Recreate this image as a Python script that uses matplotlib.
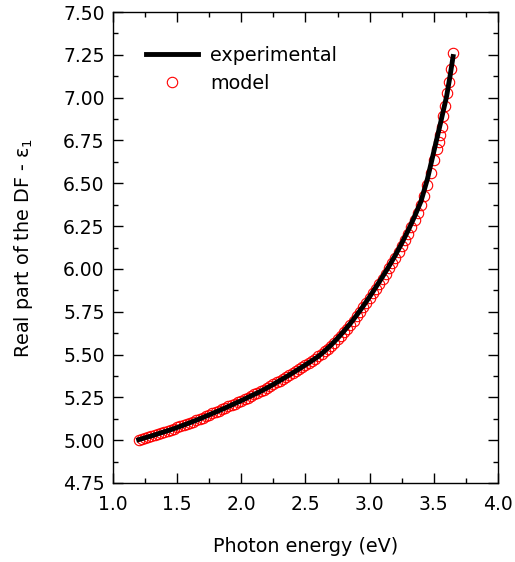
import matplotlib
matplotlib.use("Agg")
import matplotlib.pyplot as plt
from matplotlib.ticker import MultipleLocator

plt.rcParams['font.family'] = ['DejaVu Sans']
plt.rcParams['mathtext.fontset'] = 'dejavusans'

# experimental curve (eV, eps1)
energia_exp = [1.20, 1.25, 1.30, 1.35, 1.40, 1.45, 1.50, 1.55, 1.60, 1.65,
               1.70, 1.75, 1.80, 1.85, 1.90, 1.95, 2.00, 2.05, 2.10, 2.15,
               2.20, 2.25, 2.30, 2.35, 2.40, 2.45, 2.50, 2.55, 2.60, 2.65,
               2.70, 2.75, 2.80, 2.85, 2.90, 2.95, 3.00, 3.05, 3.10, 3.15,
               3.20, 3.25, 3.30, 3.35, 3.40, 3.45, 3.50, 3.55, 3.60, 3.625,
               3.65]
eps1_exp = [5.003, 5.014, 5.025, 5.037, 5.049, 5.061, 5.074, 5.088, 5.102, 5.117,
            5.132, 5.148, 5.164, 5.180, 5.197, 5.214, 5.231, 5.249, 5.267, 5.285,
            5.305, 5.326, 5.348, 5.370, 5.393, 5.416, 5.440, 5.464, 5.489, 5.521,
            5.556, 5.595, 5.637, 5.682, 5.731, 5.783, 5.838, 5.895, 5.954, 6.015,
            6.080, 6.150, 6.225, 6.306, 6.395, 6.525, 6.685, 6.845, 7.010, 7.120,
            7.240]

# model points
energia_mod = [1.200, 1.225, 1.250, 1.275, 1.300, 1.325, 1.350, 1.375, 1.400, 1.425,
               1.450, 1.475, 1.500, 1.525, 1.550, 1.575, 1.600, 1.625, 1.650, 1.675,
               1.700, 1.725, 1.750, 1.775, 1.800, 1.825, 1.850, 1.875, 1.900, 1.925,
               1.950, 1.975, 2.000, 2.025, 2.050, 2.075, 2.100, 2.125, 2.150, 2.175,
               2.200, 2.225, 2.250, 2.275, 2.300, 2.325, 2.350, 2.375, 2.400, 2.425,
               2.450, 2.475, 2.500, 2.525, 2.550, 2.575, 2.600, 2.625, 2.650, 2.675,
               2.700, 2.725, 2.750, 2.775, 2.800, 2.825, 2.850, 2.875, 2.900, 2.925,
               2.950, 2.975, 3.000, 3.025, 3.050, 3.075, 3.100, 3.125, 3.150, 3.175,
               3.200, 3.225, 3.250, 3.275, 3.300, 3.325, 3.350, 3.375, 3.400, 3.425,
               3.450, 3.475, 3.500, 3.525, 3.538, 3.548, 3.561, 3.574, 3.589, 3.605,
               3.618, 3.631, 3.652]
eps1_mod = [5.003, 5.008, 5.014, 5.019, 5.025, 5.031, 5.037, 5.043, 5.049, 5.055,
            5.061, 5.067, 5.074, 5.081, 5.088, 5.095, 5.102, 5.109, 5.117, 5.124,
            5.132, 5.140, 5.148, 5.156, 5.164, 5.172, 5.180, 5.188, 5.197, 5.205,
            5.214, 5.222, 5.231, 5.240, 5.249, 5.258, 5.267, 5.276, 5.285, 5.295,
            5.305, 5.315, 5.326, 5.337, 5.348, 5.359, 5.370, 5.381, 5.393, 5.404,
            5.416, 5.428, 5.440, 5.452, 5.464, 5.476, 5.489, 5.503, 5.518, 5.534,
            5.551, 5.569, 5.588, 5.608, 5.629, 5.651, 5.674, 5.698, 5.723, 5.749,
            5.775, 5.802, 5.829, 5.857, 5.885, 5.914, 5.943, 5.973, 6.003, 6.034,
            6.065, 6.098, 6.132, 6.168, 6.205, 6.245, 6.285, 6.328, 6.373, 6.425,
            6.490, 6.560, 6.635, 6.700, 6.740, 6.780, 6.830, 6.890, 6.950, 7.025,
            7.090, 7.170, 7.262]

fig = plt.figure(figsize=(5.15, 5.62), dpi=100)
ax = fig.add_axes([0.2194, 0.1406, 0.7476, 0.838])

ax.plot(energia_exp, eps1_exp, color='black', lw=3.5, label='experimental', zorder=3)
ax.plot(energia_mod, eps1_mod, ls='none', marker='o', ms=7.5, mfc='none',
        mec='red', mew=0.8, label='model', zorder=2)

ax.set_xlim(1.0, 4.0)
ax.set_ylim(4.75, 7.50)
ax.xaxis.set_major_locator(MultipleLocator(0.5))
ax.xaxis.set_minor_locator(MultipleLocator(0.25))
ax.yaxis.set_major_locator(MultipleLocator(0.25))
ax.yaxis.set_minor_locator(MultipleLocator(0.125))
ax.xaxis.set_major_formatter(plt.FormatStrFormatter('%.1f'))
ax.yaxis.set_major_formatter(plt.FormatStrFormatter('%.2f'))

ax.tick_params(which='both', direction='in', top=True, right=True, width=1.0,
               labelsize=13.5)
ax.tick_params(which='major', length=7)
ax.tick_params(axis='x', which='major', pad=9)
ax.tick_params(axis='y', which='major', pad=6)
ax.tick_params(which='minor', length=3.5)
for s in ax.spines.values():
    s.set_linewidth(1.0)

ax.set_xlabel('Photon energy (eV)', fontsize=13.8, labelpad=16)
ax.set_ylabel('Real part of the DF - ε$_1$', fontsize=13.8, labelpad=20)

ax.legend(loc='upper left', bbox_to_anchor=(0.04, 0.9655), frameon=False,
          fontsize=13.8, handlelength=2.75, handletextpad=0.6, labelspacing=0.5)

fig.savefig('out.png', dpi=100)
